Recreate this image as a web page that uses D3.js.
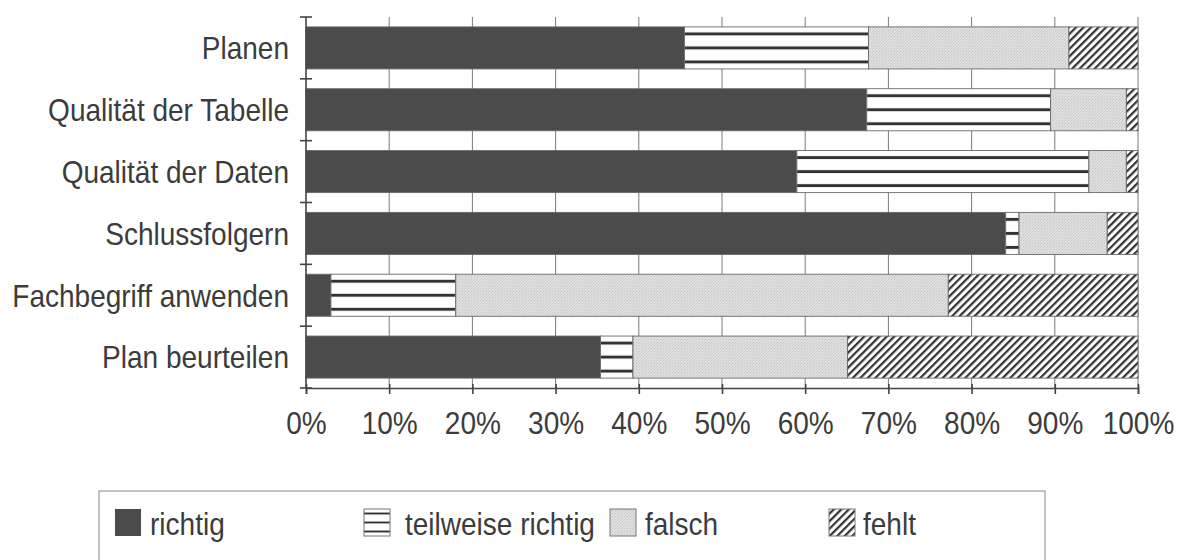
<!DOCTYPE html>
<html><head><meta charset="utf-8">
<script src="https://cdn.jsdelivr.net/npm/d3@7"></script>
<style>
html,body{margin:0;padding:0;background:#fff;}
svg{display:block;}
text{font-family:"Liberation Sans Narrow","Liberation Sans",Arial,sans-serif;fill:#3c3c3c;}
</style></head>
<body>
<svg id="chart" width="1178" height="560"></svg>
<script>
const categories = ["Planen","Qualität der Tabelle","Qualität der Daten","Schlussfolgern","Fachbegriff anwenden","Plan beurteilen"];
const seriesNames = ["richtig","teilweise richtig","falsch","fehlt"];
const richtig   = [45.5, 67.4, 59.0, 84.1, 3.0, 35.4];
const teilweise = [22.1, 22.1, 35.1, 1.6, 15.0, 3.9];
const falsch    = [24.1, 9.1, 4.5, 10.6, 59.2, 25.8];
const fehlt     = [8.3, 1.4, 1.4, 3.7, 22.8, 34.9];
const xTicks = [0,10,20,30,40,50,60,70,80,90,100];

const FS = 31.5, SX = 0.89;
const svg = d3.select("#chart");
const rows = categories.map((c,i)=>({cat:c, "richtig":richtig[i], "teilweise richtig":teilweise[i], "falsch":falsch[i], "fehlt":fehlt[i]}));
const stack = d3.stack().keys(seriesNames)(rows);

const x = d3.scaleLinear().domain([0,100]).range([306,1138]);
const y = d3.scaleBand().domain(categories).range([17,388]).paddingInner(0.32).paddingOuter(0.16);

// patterns
const defs = svg.append("defs");
const dark = "#4b4b4b";
const teil = defs.append("pattern").attr("id","teil").attr("patternUnits","objectBoundingBox")
  .attr("patternContentUnits","objectBoundingBox").attr("width",1).attr("height",1/3);
teil.append("rect").attr("width",1).attr("height",1/3).attr("fill","#fff");
teil.append("rect").attr("x",0).attr("y",1/6-0.035).attr("width",1).attr("height",0.07).attr("fill","#333");

const fal = defs.append("pattern").attr("id","fal").attr("patternUnits","userSpaceOnUse").attr("width",3).attr("height",3);
fal.append("rect").attr("width",3).attr("height",3).attr("fill","#e0e0e0");
fal.append("rect").attr("x",0).attr("y",0).attr("width",1).attr("height",1).attr("fill","#c4c4c4");
fal.append("rect").attr("x",2).attr("y",1).attr("width",1).attr("height",1).attr("fill","#cdcdcd");
fal.append("rect").attr("x",1).attr("y",2).attr("width",1).attr("height",1).attr("fill","#d0d0d0");

const feh = defs.append("pattern").attr("id","feh").attr("patternUnits","userSpaceOnUse")
  .attr("width",5.3).attr("height",10).attr("patternTransform","rotate(45)");
feh.append("rect").attr("width",5.3).attr("height",10).attr("fill","#fff");
feh.append("rect").attr("x",0).attr("width",2.2).attr("height",10).attr("fill","#333");

const fills = {"richtig":dark, "teilweise richtig":"url(#teil)", "falsch":"url(#fal)", "fehlt":"url(#feh)"};

// gridlines
svg.append("g").selectAll("line").data(xTicks.slice(1)).join("line")
  .attr("x1",d=>x(d)).attr("x2",d=>x(d)).attr("y1",17).attr("y2",388)
  .attr("stroke","#7a7a7a").attr("stroke-width",1);

// bars
svg.append("g").selectAll("g").data(stack).join("g")
  .attr("fill",d=>fills[d.key])
  .selectAll("rect").data(d=>d).join("rect")
  .attr("x",d=>x(d[0])).attr("width",d=>x(d[1])-x(d[0]))
  .attr("y",d=>y(d.data.cat)).attr("height",y.bandwidth())
  .attr("stroke","#6a6a6a").attr("stroke-width",0.9);

// y axis
const ya = svg.append("g");
ya.append("line").attr("x1",306).attr("x2",306).attr("y1",17).attr("y2",388).attr("stroke","#444").attr("stroke-width",1.6);
const yTickPos = categories.map(c=>y(c)-y.step()*y.paddingInner()/2).concat([388]);
ya.selectAll("line.t").data(yTickPos).join("line").attr("class","t")
  .attr("x1",300).attr("x2",312).attr("y1",d=>d).attr("y2",d=>d).attr("stroke","#444").attr("stroke-width",1.6);
ya.selectAll("text").data(categories).join("text")
  .attr("transform",d=>`translate(289,${y(d)+y.bandwidth()/2}) scale(${SX},1)`)
  .attr("dy","0.36em").attr("text-anchor","end").attr("font-size",FS).text(d=>d);

// x axis
const xa = svg.append("g").attr("transform","translate(0,388)")
  .call(d3.axisBottom(x).tickValues(xTicks).tickFormat(d=>d+"%").tickSize(6).tickPadding(18));
xa.select(".domain").attr("stroke","#444").attr("stroke-width",1.6);
xa.selectAll(".tick line").attr("stroke","#444").attr("stroke-width",1.6).attr("y1",-4);
xa.selectAll(".tick text").attr("font-size",FS).attr("fill","#3c3c3c")
  .attr("transform",`scale(${SX},1)`).attr("x",0)
  .style("font-family",'"Liberation Sans Narrow","Liberation Sans",Arial,sans-serif');

// legend
const lg = svg.append("g");
lg.append("rect").attr("x",99).attr("y",491).attr("width",946).attr("height",100)
  .attr("fill","#fff").attr("stroke","#8a8a8a").attr("stroke-width",1);
const legSwX = [115, 364, 610, 829];
const legTxX = [150, 405, 645, 863];
const legItems = lg.selectAll("g").data(seriesNames).join("g");
legItems.append("rect").attr("x",(d,i)=>legSwX[i]).attr("y",509).attr("width",26).attr("height",27)
  .attr("fill",d=>fills[d]).attr("stroke",d=>d==="richtig"?"none":"#777").attr("stroke-width",1);
legItems.append("text").attr("transform",(d,i)=>`translate(${legTxX[i]},535) scale(${SX},1)`)
  .attr("font-size",FS).text(d=>d);
</script>
</body></html>
